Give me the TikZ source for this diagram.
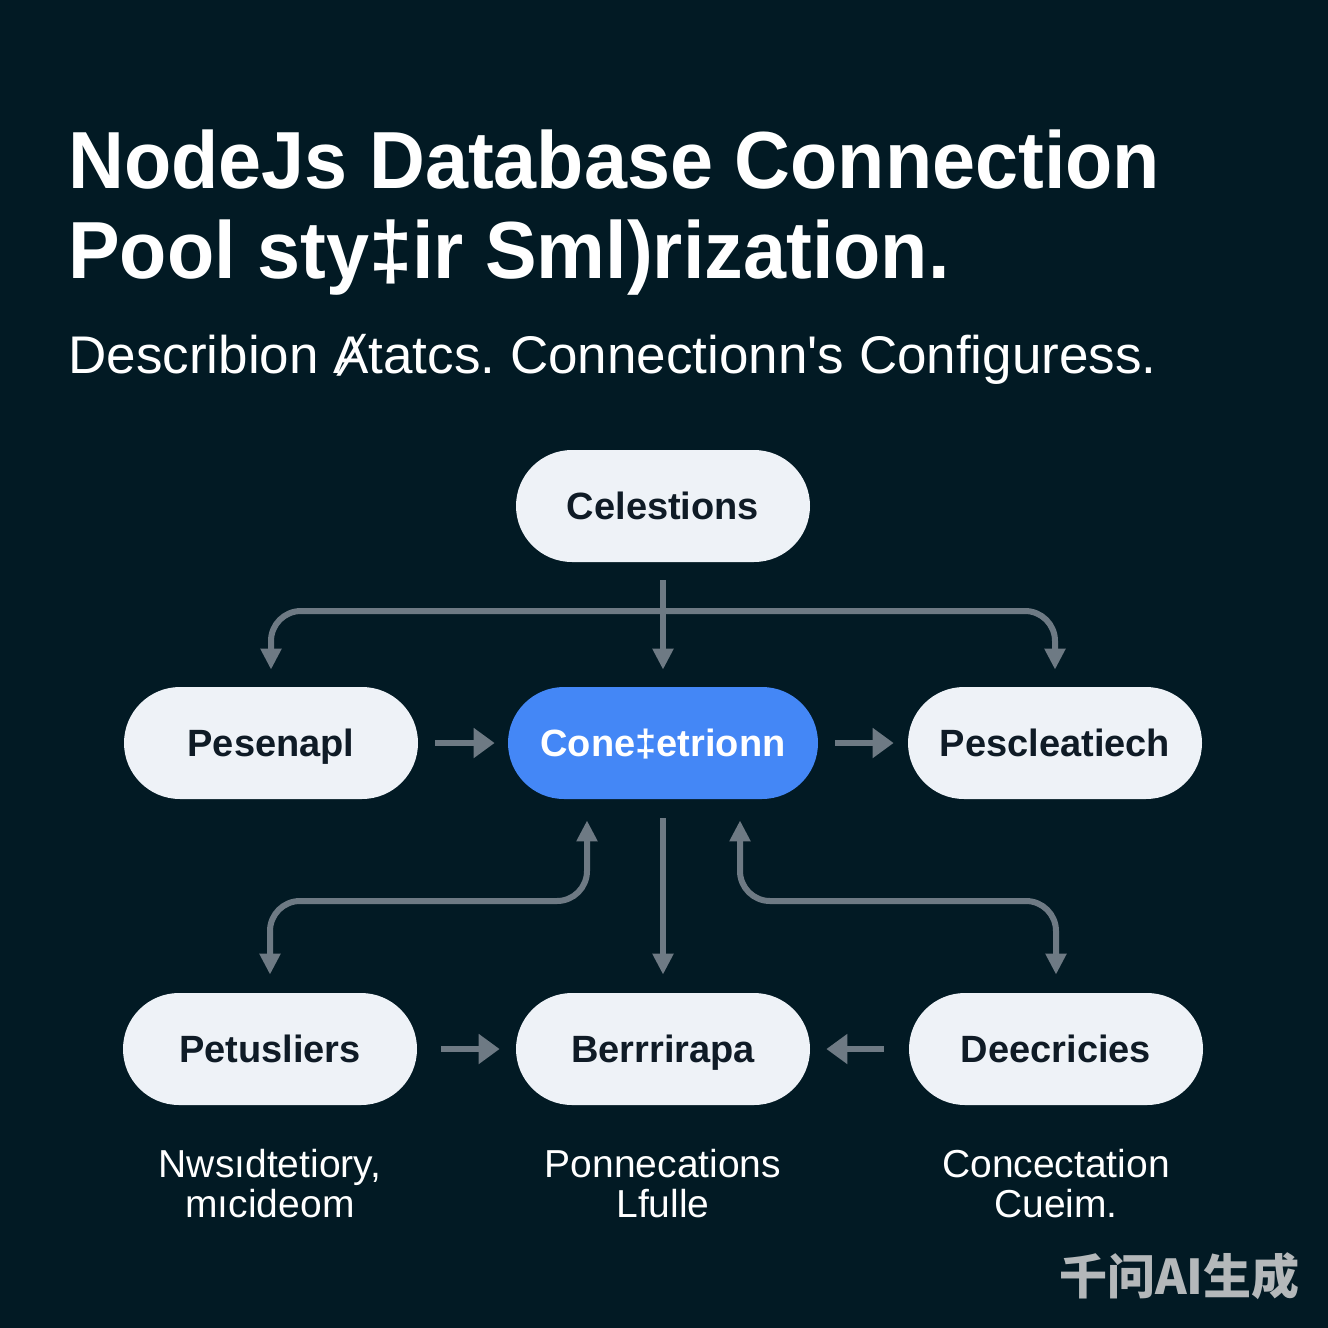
\documentclass[tikz,border=0pt]{standalone}
\usepackage{fontspec}
\setmainfont{Liberation Sans}
\newfontfamily\cjkfont{Noto Sans CJK SC}
\usetikzlibrary{arrows.meta}
\definecolor{bgc}{HTML}{021A24}
\definecolor{nodefill}{HTML}{EEF2F7}
\definecolor{bluefill}{HTML}{4487F6}
\definecolor{arrc}{HTML}{6E7A84}
\definecolor{nodetext}{HTML}{0F1B26}
\definecolor{wmark}{HTML}{B4B8BA}
\frenchspacing
\tikzset{
  pill/.style={rounded corners=28pt, minimum width=147pt, minimum height=56pt, inner sep=0pt,
    text height=13.7pt, text depth=0pt,
    fill=nodefill, text=nodetext, font=\fontsize{19}{22}\selectfont\bfseries},
  conn/.style={draw=arrc, line width=3pt, -{Triangle[width=10pt,length=10.5pt]}},
  hconn/.style={draw=arrc, line width=3pt, -{Triangle[width=14.5pt,length=10.5pt]}},
  bconn/.style={draw=arrc, line width=3pt, {Triangle[width=10pt,length=10.5pt]}-{Triangle[width=10pt,length=10.5pt]}},
  captxt/.style={text=white, align=center, font=\fontsize{19.5}{20}\selectfont},
  titletxt/.style={anchor=base west, inner sep=0, text=white, font=\fontsize{40.5}{45}\selectfont\bfseries},
}
\begin{document}
\begin{tikzpicture}[x=0.5pt,y=-0.5pt]
\fill[bgc] (0,0) rectangle (1328,1328);
\useasboundingbox (0,0) rectangle (1328,1328);
% title
\node[titletxt] (t1) at (68,188) {\scalebox{0.955}[1]{NodeJs Database Connection}};
\node[titletxt] (t2) at (68,278) {\scalebox{0.955}[1]{Pool sty‡ir Sml)rization.}};
\node[anchor=base west, inner sep=0, text=white, font=\fontsize{26.5}{30}\selectfont] (sub) at (68,373) {Describion Ⱥtatcs. Connectionn\textquotesingle s Configuress.};
% nodes
\node[pill] (cel) at (663,506) {Celestions};
\node[pill] (pes) at (271,743) {Pesenapl};
\node[pill, minimum width=155pt, fill=bluefill, text=white] (con) at (663,743) {Cone‡etrionn};
\node[pill] (psc) at (1055,743) {Pescleatiech};
\node[pill] (pet) at (270,1049) {Petusliers};
\node[pill] (ber) at (663,1049) {Berrrirapa};
\node[pill] (dee) at (1056,1049) {Deecricies};
% captions
\node[captxt] (c1) at (270,1184) {Nwsıdtetiory,\\mıcideom};
\node[captxt] (c2) at (663,1184) {Ponnecations\\Lfulle};
\node[captxt] (c3) at (1056,1184) {Concectation\\Cueim.};
% watermark
\node[anchor=east, inner sep=0, text=wmark, font=\cjkfont\fontsize{24}{28}\selectfont\bfseries] (wm) at (1300,1276) {千问AI生成};
% connectors top fork
\coordinate (bar) at (663,611);
\draw[conn, shorten <=9pt, shorten >=8.5pt] (cel.south) -- (con.north);
\draw[conn, rounded corners=15pt, shorten >=8.5pt] (bar) -| (pes.north);
\draw[conn, rounded corners=15pt, shorten >=8.5pt] (bar) -| (psc.north);
% horizontals
\draw[hconn, shorten <=8.5pt, shorten >=6.5pt] (pes.east) -- (con.west);
\draw[hconn, shorten <=8.5pt, shorten >=7pt] (con.east) -- (psc.west);
\draw[hconn, shorten <=12pt, shorten >=8pt] (pet.east) -- (ber.west);
\draw[hconn, shorten <=12.5pt, shorten >=8pt] (dee.west) -- (ber.east);
% lower
\coordinate (cl) at ([xshift=-38pt]con.south);
\coordinate (cr) at ([xshift=38.5pt]con.south);
\coordinate (lowbar) at (663,901);
\draw[bconn, rounded corners=15pt, shorten <=9pt, shorten >=10.5pt] (pet.north) |- (lowbar -| cl) -- (cl);
\draw[bconn, rounded corners=15pt, shorten <=9pt, shorten >=10.5pt] (dee.north) |- (lowbar -| cr) -- (cr);
\draw[conn, shorten <=9.5pt, shorten >=9pt] (con.south) -- (ber.north);
\end{tikzpicture}
\end{document}
